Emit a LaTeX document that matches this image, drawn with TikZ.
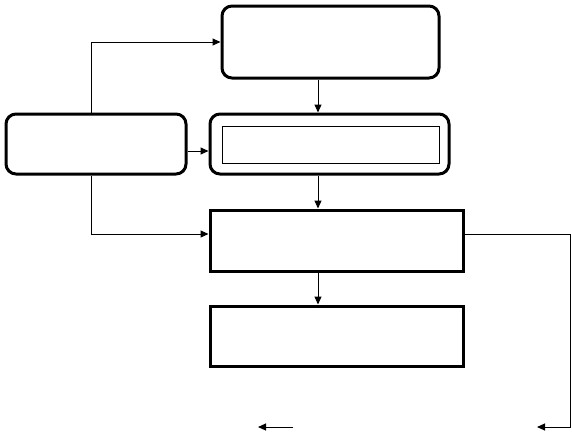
\documentclass[tikz,border=0pt]{standalone}
\usetikzlibrary{arrows.meta}

\begin{document}
\begin{tikzpicture}[x=1pt, y=-1pt,
    roundbox/.style={draw, line width=3pt, rounded corners=10pt, inner sep=0pt},
    sqbox/.style={draw, line width=3pt, inner sep=0pt, line cap=round},
    link/.style={line width=1pt, -{Triangle[length=8pt,width=7pt]}}]
      \useasboundingbox (0,0) rectangle (572,439);
      % boxes
      \node[roundbox, minimum width=217pt, minimum height=72pt] (load) at (330.5,42) {};
      \node[roundbox, minimum width=239pt, minimum height=60pt] (parse) at (329.5,144) {};
      \node[draw, line width=1pt, inner sep=0pt, minimum width=217pt, minimum height=37pt] (parsein) at (330.5,144.5) {};
      \node[roundbox, minimum width=180pt, minimum height=60pt] (config) at (96,144) {};
      \node[sqbox, minimum width=253pt, minimum height=61pt] (run) at (336.5,240.5) {};
      \node[sqbox, minimum width=253pt, minimum height=60pt] (report) at (336.5,336) {};
      % guide coordinates
      \coordinate (spine) at (318,0);
      \coordinate (left) at (91,0);
      \coordinate (turn) at (570,234);
      \coordinate (outend) at (537,427);
      \coordinate (loosestart) at (293,427);
      \coordinate (looseend) at (258,427);
      % connectors
      \foreach \a/\b in {load/parse, parse/run, run/report}
        \draw[link] (\a.south -| spine) -- (\b.north -| spine);
      \draw[link] (config.north -| left) |- (load.west);
      \draw[link] (config.east |- 0,151) -- (parse.west |- 0,151);
      \draw[link] (config.south -| left) |- (run.west |- 0,234);
      \draw[link] (run.east |- turn) -- (turn) |- (outend);
      \draw[link] (loosestart) -- (looseend);
    \end{tikzpicture}
\end{document}
